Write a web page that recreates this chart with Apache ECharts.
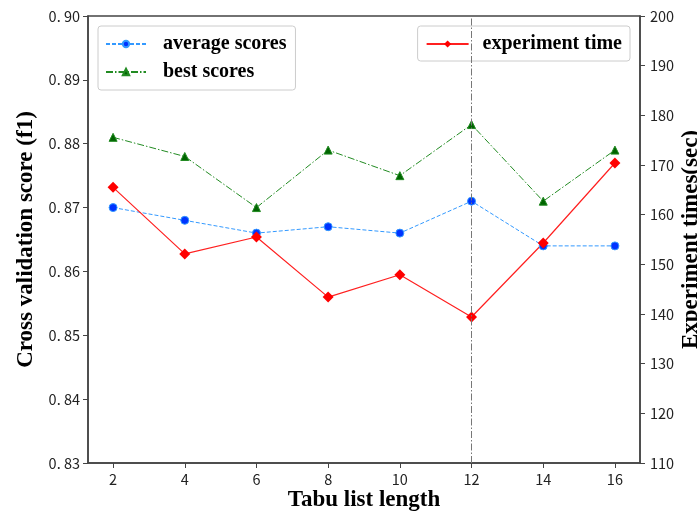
<!DOCTYPE html>
<html>
<head>
<meta charset="utf-8">
<script src="https://cdn.jsdelivr.net/npm/echarts@6/dist/echarts.min.js"></script>
<style>
  html, body { margin: 0; padding: 0; background: #fff; }
  #main { width: 697px; height: 515px; }
</style>
</head>
<body>
<div id="main"></div>
<script>
// tabu list length on x
var tabuLength = [2, 4, 6, 8, 10, 12, 14, 16];
var averageScores = [0.870, 0.868, 0.866, 0.867, 0.866, 0.871, 0.864, 0.864];
var bestScores = [0.881, 0.878, 0.870, 0.879, 0.875, 0.883, 0.871, 0.879];
var experimentTime = [165.5, 152.1, 155.5, 143.4, 147.9, 139.4, 154.3, 170.4];
var scoreTicks = [0.83, 0.84, 0.85, 0.86, 0.87, 0.88, 0.89, 0.90];
var timeTicks = [110, 120, 130, 140, 150, 160, 170, 180, 190, 200];

function pairs(xs, ys) {
  return xs.map(function (x, i) { return [x, ys[i]]; });
}

var chart = echarts.init(document.getElementById('main'));
var tickFont = { fontFamily: 'Noto Sans CJK SC', fontSize: 14.5, color: '#222' };
var titleFont = { fontFamily: 'Liberation Serif', fontWeight: 'bold', fontSize: 23, color: '#000' };
var legendFont = { fontFamily: 'Liberation Serif', fontWeight: 'bold', fontSize: 20, color: '#000' };
var axisCol = '#444';

var option = {
  animation: false,
  grid: {
    left: 88, top: 16, right: 57, bottom: 52,
    outerBoundsMode: 'none', containLabel: false,
    show: true, borderColor: axisCol, borderWidth: 1.5, backgroundColor: 'transparent'
  },
  legend: [
    {
      data: ['average scores', 'best scores'],
      orient: 'vertical', left: 98, top: 26,
      itemWidth: 40, itemHeight: 8, itemGap: 8,
      padding: [8, 9, 8, 7],
      borderColor: '#ccc', borderWidth: 1, borderRadius: 3,
      textStyle: Object.assign({ padding: [0, 0, 0, 12] }, legendFont)
    },
    {
      data: ['experiment time'],
      orient: 'vertical', right: 67, top: 26,
      itemWidth: 42, itemHeight: 9,
      padding: [8, 8, 7, 8],
      borderColor: '#ccc', borderWidth: 1, borderRadius: 3,
      textStyle: Object.assign({ padding: [0, 0, 0, 9] }, legendFont)
    }
  ],
  xAxis: {
    type: 'value', min: 1.3, max: 16.7,
    name: 'Tabu list length', nameLocation: 'middle', nameGap: 26,
    nameMoveOverlap: false,
    nameTextStyle: titleFont,
    axisLine: { lineStyle: { color: axisCol, width: 1.5 } },
    axisTick: { show: true, length: 5, customValues: tabuLength, lineStyle: { color: axisCol } },
    axisLabel: Object.assign({ customValues: tabuLength, margin: 9 }, tickFont),
    splitLine: { show: false }
  },
  yAxis: [
    {
      type: 'value', min: 0.83, max: 0.90, interval: 0.01,
      name: 'Cross validation score (f1)', nameLocation: 'middle', nameGap: 50,
      nameMoveOverlap: false,
      nameTextStyle: titleFont,
      axisLine: { show: true, lineStyle: { color: axisCol, width: 1.5 } },
      axisTick: { show: true, length: 5, lineStyle: { color: axisCol } },
      axisLabel: Object.assign({
        customValues: scoreTicks, margin: 8,
        formatter: function (v) { return v.toFixed(2).replace('.', '. '); }
      }, tickFont),
      splitLine: { show: false }
    },
    {
      type: 'value', min: 110, max: 200, interval: 10,
      name: 'Experiment times(sec)', nameLocation: 'middle', nameGap: 40,
      nameRotate: 90, nameMoveOverlap: false,
      nameTextStyle: titleFont,
      axisLine: { show: true, lineStyle: { color: axisCol, width: 1.5 } },
      axisTick: { show: true, length: 5, lineStyle: { color: axisCol } },
      axisLabel: Object.assign({ customValues: timeTicks, margin: 10 }, tickFont),
      splitLine: { show: false }
    }
  ],
  series: [
    {
      name: 'average scores', type: 'line', yAxisIndex: 0,
      data: pairs(tabuLength, averageScores),
      symbol: 'circle', symbolSize: 8,
      itemStyle: { color: '#0033ff', borderColor: '#3399ff', borderWidth: 1 },
      lineStyle: { color: '#3399ff', width: 1, type: [4, 2] }
    },
    {
      name: 'best scores', type: 'line', yAxisIndex: 0,
      data: pairs(tabuLength, bestScores),
      symbol: 'triangle', symbolSize: 8,
      itemStyle: { color: '#006400', borderColor: '#228b22', borderWidth: 1 },
      lineStyle: { color: '#228b22', width: 1, type: [7, 2, 1.5, 2] },
      markLine: {
        silent: true, symbol: 'none', label: { show: false },
        lineStyle: { color: '#777', width: 1, type: [7, 2, 1.5, 2] },
        data: [{ xAxis: 12 }]
      }
    },
    {
      name: 'experiment time', type: 'line', yAxisIndex: 1,
      data: pairs(tabuLength, experimentTime),
      symbol: 'diamond', symbolSize: 11,
      itemStyle: { color: '#ff0000' },
      lineStyle: { color: '#ff2020', width: 1.2, type: 'solid' },
      z: 3
    }
  ]
};
chart.setOption(option);
</script>
</body>
</html>
